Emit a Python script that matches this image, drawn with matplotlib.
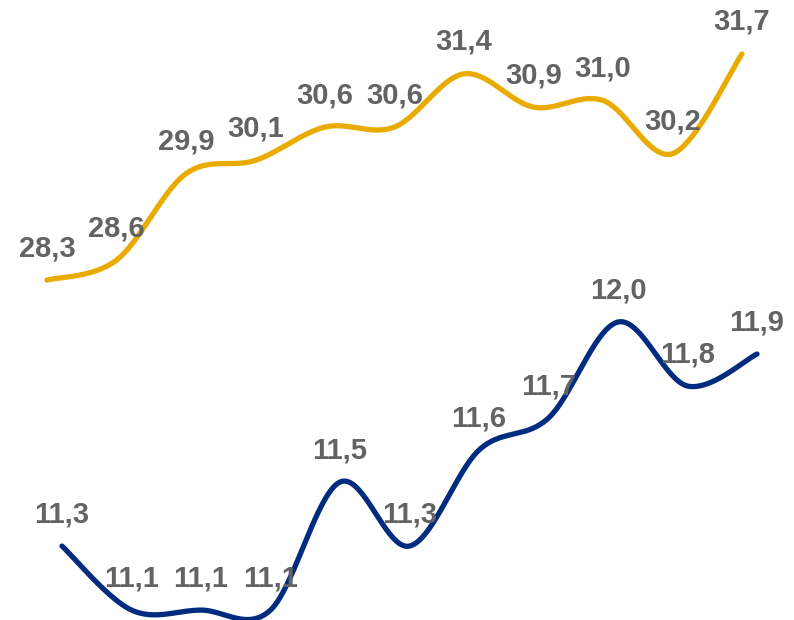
import numpy as np
import matplotlib.pyplot as plt

plt.rcParams['font.family'] = ['Liberation Sans', 'DejaVu Sans']

# data
periods = list(range(11))
upper_vals = [28.3, 28.6, 29.9, 30.1, 30.6, 30.6, 31.4, 30.9, 31.0, 30.2, 31.7]
lower_vals = [11.3, 11.1, 11.1, 11.1, 11.5, 11.3, 11.6, 11.7, 12.0, 11.8, 11.9]

gold = '#EAAB00'
navy = '#002B7F'
label_col = '#636363'


def smooth(x, y, n=40):
    # Excel-like smoothed line (cardinal bezier through every point)
    x = np.asarray(x, float)
    y = np.asarray(y, float)
    px = np.concatenate([[x[0]], x, [x[-1]]])
    py = np.concatenate([[y[0]], y, [y[-1]]])
    t = np.linspace(0, 1, n)[:, None]
    xs, ys = [], []
    for i in range(1, len(px) - 2):
        p0 = np.array([px[i], py[i]])
        p3 = np.array([px[i + 1], py[i + 1]])
        c1 = p0 + (p3 - np.array([px[i - 1], py[i - 1]])) / 6
        c2 = p3 - (np.array([px[i + 2], py[i + 2]]) - p0) / 6
        b = ((1 - t) ** 3) * p0 + 3 * ((1 - t) ** 2) * t * c1 \
            + 3 * (1 - t) * t ** 2 * c2 + t ** 3 * p3
        xs.append(b[:, 0])
        ys.append(b[:, 1])
    return np.concatenate(xs), np.concatenate(ys)


fig = plt.figure(figsize=(7.94, 6.2), dpi=100)

ax_top = fig.add_axes([0, 0, 1, 1])
ax_bot = fig.add_axes([0, 0, 1, 1])
for ax in (ax_top, ax_bot):
    ax.set_axis_off()
    ax.patch.set_alpha(0)

ax_top.set_xlim(-47 / 69.5, (794 - 47) / 69.5)
ax_top.set_ylim(23.19, 32.51)
ax_bot.set_xlim(-62 / 69.5, (794 - 62) / 69.5)
ax_bot.set_ylim(11.069, 13.006)

for ax, vals, col in ((ax_top, upper_vals, gold), (ax_bot, lower_vals, navy)):
    sx, sy = smooth(periods, vals)
    ax.plot(sx, sy, color=col, lw=3.8, solid_capstyle='round')
    for x, v in zip(periods, vals):
        ax.annotate(f'{v:.1f}'.replace('.', ','), (x, v),
                    xytext=(0, 24), textcoords='offset pixels',
                    ha='center', va='baseline', fontsize=21,
                    fontweight='bold', color=label_col)

fig.savefig('out.png', dpi=100)
